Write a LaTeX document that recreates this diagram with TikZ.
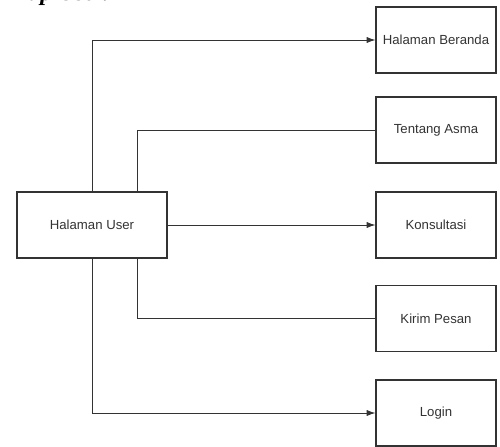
\documentclass[tikz,border=0pt]{standalone}
\usepackage{fontspec}
\setmainfont{Liberation Sans}
\newfontfamily\titlefont{Liberation Serif}
\usetikzlibrary{arrows.meta}
\begin{document}
\begin{tikzpicture}[x=0.02cm,y=-0.02cm,
    menubox/.style={draw=black!80,line width=0.6pt,minimum width=2.4cm,minimum height=1.32cm,
      font=\fontsize{7.5}{9}\selectfont,text=black!80},
    userbox/.style={menubox,minimum width=3cm},
    link/.style={draw=black!80,line width=0.5pt},
    tip/.style={-{Latex[length=5pt,width=3.5pt]}}]
    \useasboundingbox (0,0) rectangle (500,446);

    % Title (cut off at the top, as in the page it came from)
    \node[anchor=base west,inner sep=0pt,font=\titlefont\fontsize{13.5}{15}\selectfont\bfseries\itshape]
      (title) at (7,1) {Map User.};

    % Boxes
    \node[userbox] (user) at (92,225) {Halaman User};

    \node[menubox] (beranda) at (436,40) {Halaman Beranda};
    \node[menubox] (tentang) at (436,130) {Tentang Asma};
    \node[menubox] (konsul) at (436,225) {Konsultasi};
    \node[menubox] (kirim) at (436,318.5) {Kirim Pesan};
    \node[menubox] (login) at (436,413) {Login};

    % Links
    \draw[link,tip] (user.north) |- (beranda.west);
    \draw[link] ([xshift=0.9cm]user.north) |- (tentang.west);
    \draw[link,tip] (user.east) -- (konsul.west);
    \draw[link] ([xshift=0.9cm]user.south) |- (kirim.west);
    \draw[link,tip] (user.south) |- (login.west);
  \end{tikzpicture}
\end{document}
